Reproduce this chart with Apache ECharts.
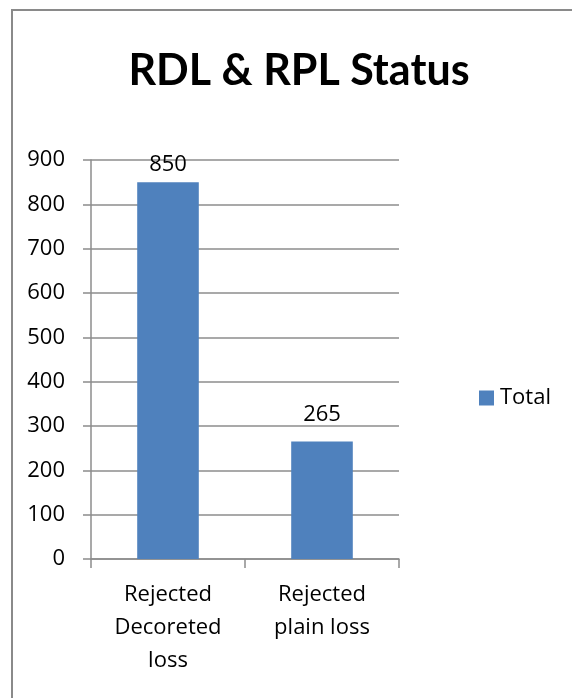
<!DOCTYPE html>
<html><head><meta charset="utf-8">
<script src="https://cdn.jsdelivr.net/npm/echarts@6/dist/echarts.min.js"></script>
<style>html,body{margin:0;padding:0;background:#fff}#c{width:572px;height:698px}</style>
</head><body><div id="c"></div>
<script>
const titleText = 'RDL & RPL Status';
const categories = ['Rejected\nDecoreted\nloss', 'Rejected\nplain loss'];
const seriesName = 'Total';
const totals = [850, 265];
const yTicks = { min: 0, max: 900, interval: 100 };
const labelGaps = [6, 16];

const FONT = '"Open Sans"';
const GRID = '#8c8c8c';
const chart = echarts.init(document.getElementById('c'), null, { renderer: 'canvas' });
chart.setOption({
  backgroundColor: '#fff',
  animation: false,
  textStyle: { fontFamily: FONT },
  graphic: [
    { type: 'line', silent: true, shape: { x1: 12, y1: 10, x2: 12, y2: 698 },
      style: { stroke: '#8a8a8a', lineWidth: 2 } },
    { type: 'line', silent: true, shape: { x1: 11, y1: 10, x2: 572, y2: 10 },
      style: { stroke: '#8a8a8a', lineWidth: 2 } }
  ],
  title: {
    text: titleText, left: 294, top: 45, textAlign: 'center',
    textStyle: { fontFamily: 'Lato', fontWeight: 'bold', fontSize: 43, color: '#000' }
  },
  legend: {
    data: [seriesName], left: 479, top: 387, padding: 0, icon: 'rect', itemWidth: 15, itemHeight: 15, itemGap: 6,
    textStyle: { fontFamily: FONT, fontSize: 22, color: '#000', padding: [0,0,0,1] }
  },
  grid: { left: 91, right: 173, top: 160, bottom: 139, containLabel: false },
  xAxis: {
    type: 'category', data: categories,
    axisLine: { lineStyle: { color: GRID, width: 1.5 } },
    axisTick: { show: true, length: 9, lineStyle: { color: GRID, width: 1.5 } },
    axisLabel: { margin: 19, fontFamily: FONT, fontSize: 22, color: '#000', lineHeight: 33, interval: 0 }
  },
  yAxis: {
    type: 'value', min: yTicks.min, max: yTicks.max, interval: yTicks.interval,
    axisLine: { show: true, lineStyle: { color: GRID, width: 1.5 } },
    axisTick: { show: true, length: 8, lineStyle: { color: GRID, width: 1.5 } },
    splitLine: { lineStyle: { color: GRID, width: 1.5 } },
    axisLabel: { margin: 26, fontFamily: FONT, fontSize: 22, color: '#000' }
  },
  series: [{
    name: seriesName, type: 'bar', barWidth: '40%',
    itemStyle: { color: '#4f81bd' },
    data: totals.map((v, i) => ({ value: v, label: { distance: labelGaps[i] } })),
    label: { show: true, position: 'top', fontFamily: FONT, fontSize: 22, color: '#000' }
  }]
});
</script></body></html>
